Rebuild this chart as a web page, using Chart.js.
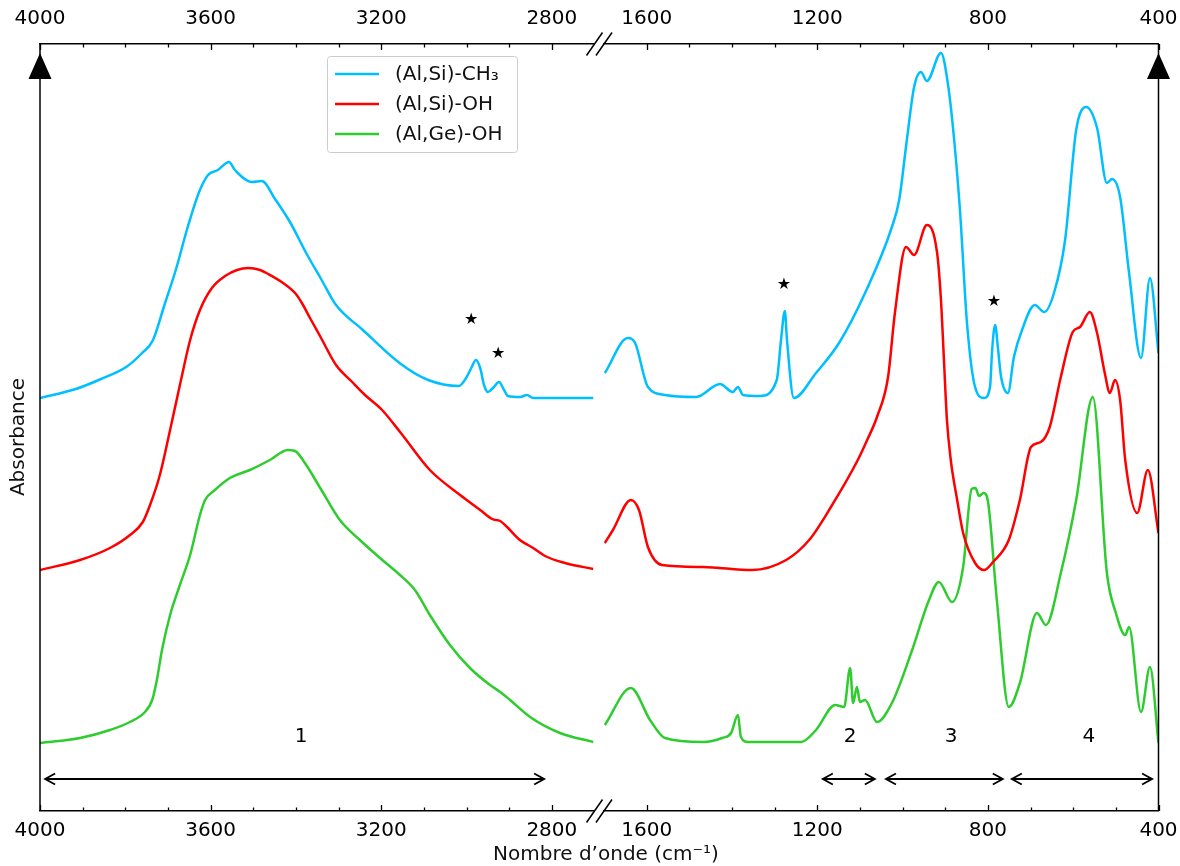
<!DOCTYPE html>
<html>
<head>
<meta charset="utf-8">
<script src="https://cdn.jsdelivr.net/npm/chart.js@4.4.1/dist/chart.umd.min.js"></script>
<style>
  html, body { margin: 0; padding: 0; background: #fff; }
  #wrap { position: relative; width: 1180px; height: 866px; }
  canvas { position: absolute; left: 0; top: 0; }
</style>
</head>
<body>
<div id="wrap">
  <canvas id="high" width="1180" height="866"></canvas>
  <canvas id="low" width="1180" height="866"></canvas>
</div>
<script>
// series
const SERIES = ['(Al,Si)-CH₃', '(Al,Si)-OH', '(Al,Ge)-OH'];
const COLORS = ['#00bfff', '#ff0000', '#2ecc2e'];

// tick labels of the two windows
const HIGH_TICKS = [4000, 3600, 3200, 2800];
const LOW_TICKS = [1600, 1200, 800, 400];

// 4000 - 2700 cm-1 window (absorbance in arbitrary units, offsets included)
const ch3HiWn = [4000, 3916, 3857, 3798, 3763, 3735, 3709, 3681, 3655, 3627, 3606, 3583, 3557, 3543, 3503, 3480, 3449, 3414, 3376, 3341, 3306, 3243, 3154, 3090, 3018, 3001, 2989, 2978, 2968, 2959, 2950, 2938, 2924, 2912, 2903, 2875, 2858, 2844, 2703];
const ch3HiAbs = [413, 422, 432, 444, 457, 471, 505, 542, 582, 619, 636, 641, 649, 641, 629, 630, 612, 589, 558, 532, 506, 481, 447, 431, 425, 433, 443, 451, 443, 426, 419, 423, 429, 421, 415, 414, 416, 413, 413];
const siOhHiWn = [4000, 3906, 3836, 3789, 3759, 3742, 3719, 3695, 3672, 3648, 3625, 3597, 3566, 3538, 3512, 3484, 3465, 3430, 3402, 3386, 3367, 3341, 3306, 3268, 3238, 3198, 3154, 3086, 3015, 2968, 2940, 2921, 2905, 2875, 2856, 2844, 2816, 2769, 2703];
const siOhHiAbs = [241, 251, 263, 276, 289, 306, 336, 381, 426, 471, 501, 523, 535, 541, 543, 541, 537, 528, 518, 508, 493, 473, 446, 429, 416, 401, 378, 341, 316, 301, 292, 290, 284, 271, 266, 263, 255, 248, 242];
const geOhHiWn = [4000, 3906, 3836, 3789, 3754, 3737, 3726, 3714, 3695, 3672, 3648, 3625, 3613, 3590, 3555, 3508, 3461, 3419, 3402, 3379, 3343, 3297, 3250, 3203, 3156, 3121, 3086, 3039, 2992, 2945, 2921, 2898, 2851, 2781, 2703];
const geOhHiAbs = [68, 73, 81, 89, 99, 111, 131, 161, 196, 226, 256, 296, 311, 321, 333, 341, 351, 361, 360, 348, 323, 291, 271, 253, 236, 221, 196, 166, 143, 126, 119, 111, 94, 78, 69];

// 1700 - 400 cm-1 window
const ch3LoWn = [1698, 1644, 1627, 1597, 1557, 1484, 1428, 1398, 1386, 1374, 1334, 1295, 1285, 1276, 1271, 1255, 1203, 1149, 1088, 1025, 1008, 990, 973, 957, 943, 910, 894, 879, 865, 849, 830, 809, 795, 790, 783, 776, 769, 753, 739, 720, 690, 668, 645, 619, 593, 570, 544, 521, 509, 490, 469, 441, 420, 400];
const ch3LoAbs = [438, 473, 468, 424, 416, 414, 427, 419, 424, 416, 415, 431, 471, 500, 471, 413, 438, 468, 518, 584, 611, 671, 724, 739, 730, 758, 728, 671, 598, 488, 424, 413, 424, 461, 486, 461, 434, 418, 454, 481, 506, 499, 518, 571, 681, 704, 683, 628, 632, 614, 538, 453, 533, 458];
const siOhLoWn = [1698, 1679, 1637, 1618, 1597, 1564, 1468, 1353, 1273, 1219, 1168, 1105, 1083, 1060, 1034, 1018, 992, 973, 943, 919, 910, 903, 896, 887, 872, 858, 830, 809, 788, 751, 725, 699, 676, 655, 629, 601, 584, 561, 544, 526, 514, 502, 490, 478, 450, 425, 400];
const siOhLoAbs = [268, 281, 311, 301, 264, 246, 244, 241, 251, 271, 304, 351, 371, 394, 434, 498, 564, 556, 586, 558, 511, 451, 391, 351, 311, 278, 248, 241, 249, 271, 311, 364, 369, 384, 434, 479, 484, 499, 478, 438, 418, 431, 411, 351, 298, 341, 278];
const geOhLoWn = [1698, 1637, 1592, 1557, 1468, 1423, 1402, 1386, 1379, 1362, 1238, 1203, 1158, 1137, 1123, 1116, 1107, 1100, 1088, 1060, 1025, 980, 938, 915, 884, 858, 838, 829, 821, 810, 800, 779, 751, 725, 685, 664, 629, 593, 554, 521, 500, 478, 469, 441, 420, 400];
const geOhLoAbs = [86, 123, 91, 73, 69, 73, 78, 96, 74, 69, 69, 81, 106, 104, 143, 108, 124, 109, 111, 89, 108, 158, 211, 229, 209, 244, 322, 323, 315, 318, 310, 211, 104, 128, 198, 186, 238, 311, 414, 238, 198, 176, 184, 99, 144, 68];

// annotations: stars on the CH3 bands, region numbers and their ranges
const STARS_HI = [[2989, 491], [2926, 457]];
const STARS_LO = [[1278, 526], [786, 509]];
const REGIONS_HI = [{ label: '1', at: 3388, from: 3988, to: 2818 }];
const REGIONS_LO = [
  { label: '2', at: 1123, from: 1187, to: 1065 },
  { label: '3', at: 886, from: 1039, to: 765 },
  { label: '4', at: 563, from: 744, to: 415 }
];

const FONT = '"DejaVu Sans", "Liberation Sans", sans-serif';

function toPoints(xs, ys) {
  return xs.map((x, i) => ({ x: x, y: ys[i] }));
}

function axisOpts(pos, min, max, ticks, height, pad) {
  return {
    type: 'linear',
    position: pos,
    min: min,
    max: max,
    reverse: true,
    grid: { display: false, drawTicks: false },
    border: { display: true, color: '#000', width: 1.5 },
    ticks: {
      color: '#000',
      font: { family: FONT, size: 20 },
      padding: pad,
      maxRotation: 0,
      autoSkip: false,
      callback: v => String(v)
    },
    afterBuildTicks: s => { s.ticks = ticks.map(v => ({ value: v })); },
    afterFit: s => { s.height = height; s.paddingLeft = 0; s.paddingRight = 0; }
  };
}

function line(ctx, x1, y1, x2, y2) {
  ctx.beginPath();
  ctx.moveTo(x1, y1);
  ctx.lineTo(x2, y2);
  ctx.stroke();
}

function inwardTicks(chart, from, to) {
  const { ctx, chartArea: a, scales: { x } } = chart;
  ctx.lineWidth = 1.3;
  for (let v = from; v <= to; v += 100) {
    const px = Math.round(x.getPixelForValue(v)) + 0.5;
    const len = v % 400 === 0 ? 6 : 3.5;
    line(ctx, px, a.top, px, a.top + len);
    line(ctx, px, a.bottom, px, a.bottom - len);
  }
}

function axisArrow(ctx, px, top) {
  ctx.beginPath();
  ctx.moveTo(px, top + 9);
  ctx.lineTo(px - 11.5, top + 35);
  ctx.lineTo(px + 11.5, top + 35);
  ctx.closePath();
  ctx.fill();
}

function breakMarks(ctx, px, a) {
  ctx.lineWidth = 1.5;
  [a.top, a.bottom].forEach(y0 => line(ctx, px - 8, y0 + 11.5, px + 8, y0 - 11.5));
}

function dblArrow(ctx, x1, x2, y) {
  ctx.lineWidth = 1.8;
  line(ctx, x1, y, x2, y);
  ctx.beginPath();
  ctx.moveTo(x1 + 10, y - 5.5); ctx.lineTo(x1, y); ctx.lineTo(x1 + 10, y + 5.5);
  ctx.moveTo(x2 - 10, y - 5.5); ctx.lineTo(x2, y); ctx.lineTo(x2 - 10, y + 5.5);
  ctx.stroke();
}

function annotate(chart, stars, regions) {
  const { ctx, scales: { x, y } } = chart;
  ctx.fillStyle = '#000';
  ctx.textAlign = 'center';
  ctx.textBaseline = 'middle';
  ctx.font = '16px ' + FONT;
  stars.forEach(s => ctx.fillText('★', x.getPixelForValue(s[0]), y.getPixelForValue(s[1])));
  ctx.font = '20px ' + FONT;
  regions.forEach(r => {
    ctx.fillText(r.label, x.getPixelForValue(r.at), y.getPixelForValue(74));
    dblArrow(ctx, x.getPixelForValue(r.from), x.getPixelForValue(r.to), y.getPixelForValue(32));
  });
}

const highDeco = {
  id: 'highDeco',
  afterDraw(chart) {
    const { ctx, chartArea: a } = chart;
    ctx.save();
    ctx.strokeStyle = '#000';
    ctx.fillStyle = '#000';
    inwardTicks(chart, 2800, 4000);
    ctx.lineWidth = 1.5;
    line(ctx, a.left, a.top, a.left, a.bottom);
    axisArrow(ctx, a.left, a.top);
    breakMarks(ctx, a.right, a);
    annotate(chart, STARS_HI, REGIONS_HI);

    // legend
    ctx.fillStyle = 'rgba(255,255,255,0.8)';
    ctx.strokeStyle = '#cccccc';
    ctx.lineWidth = 1;
    ctx.beginPath();
    ctx.roundRect(327.5, 56.5, 190, 96, 3);
    ctx.fill();
    ctx.stroke();
    ctx.font = '20px ' + FONT;
    ctx.textAlign = 'left';
    ctx.textBaseline = 'middle';
    chart.data.datasets.forEach((ds, i) => {
      const yy = 74 + i * 30;
      ctx.strokeStyle = ds.borderColor;
      ctx.lineWidth = 2.5;
      line(ctx, 335, yy, 379, yy);
      ctx.fillStyle = '#111';
      ctx.fillText(ds.label, 395, yy + 1);
    });

    // y title
    ctx.save();
    ctx.translate(19, 437);
    ctx.rotate(-Math.PI / 2);
    ctx.textAlign = 'center';
    ctx.fillStyle = '#111';
    ctx.fillText('Absorbance', 0, 0);
    ctx.restore();
    ctx.restore();
  }
};

const lowDeco = {
  id: 'lowDeco',
  afterDraw(chart) {
    const { ctx, chartArea: a } = chart;
    ctx.save();
    ctx.strokeStyle = '#000';
    ctx.fillStyle = '#000';
    inwardTicks(chart, 400, 1600);
    ctx.lineWidth = 1.5;
    line(ctx, a.right, a.top, a.right, a.bottom);
    axisArrow(ctx, a.right, a.top);
    breakMarks(ctx, a.left, a);
    annotate(chart, STARS_LO, REGIONS_LO);

    // x title, shared by both windows
    ctx.font = '20px ' + FONT;
    ctx.textAlign = 'center';
    ctx.textBaseline = 'middle';
    ctx.fillStyle = '#111';
    ctx.fillText('Nombre d’onde (cm⁻¹)', 606, 855);
    ctx.restore();
  }
};

function makeChart(id, wnMin, wnMax, padLeft, padRight, ticks, sets, deco) {
  return new Chart(document.getElementById(id), {
    type: 'line',
    data: {
      datasets: sets.map((pts, i) => ({
        label: SERIES[i],
        data: pts,
        borderColor: COLORS[i],
        borderWidth: 2.5,
        pointRadius: 0,
        fill: false,
        cubicInterpolationMode: 'monotone'
      }))
    },
    options: {
      responsive: false,
      animation: false,
      layout: { padding: { left: padLeft, right: padRight, top: 0, bottom: 0 } },
      plugins: { legend: { display: false }, tooltip: { enabled: false } },
      scales: {
        x: axisOpts('bottom', wnMin, wnMax, ticks, 55, 8),
        xTop: axisOpts('top', wnMin, wnMax, ticks, 44, 13),
        y: { display: false, min: 0, max: 767 }
      }
    },
    plugins: [deco]
  });
}

makeChart('high', 2700, 4000, 40, 585.5, HIGH_TICKS, [
  toPoints(ch3HiWn, ch3HiAbs),
  toPoints(siOhHiWn, siOhHiAbs),
  toPoints(geOhHiWn, geOhHiAbs)
], highDeco);

makeChart('low', 400, 1700, 604, 21.5, LOW_TICKS, [
  toPoints(ch3LoWn, ch3LoAbs),
  toPoints(siOhLoWn, siOhLoAbs),
  toPoints(geOhLoWn, geOhLoAbs)
], lowDeco);
</script>
</body>
</html>
